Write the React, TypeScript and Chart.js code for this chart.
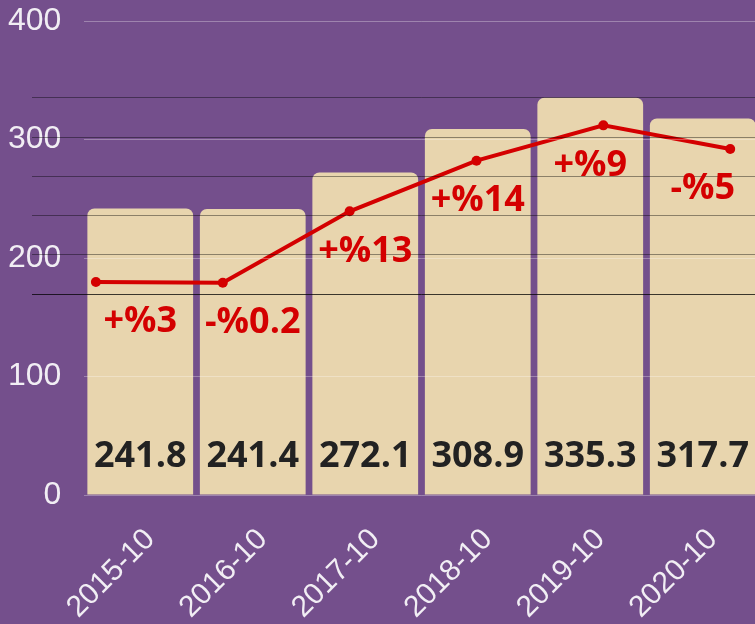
import React, { useEffect, useRef } from 'react';
import { Chart, registerables } from 'chart.js';

Chart.register(...registerables);

// ---- data ----
const categories = ['2015-10', '2016-10', '2017-10', '2018-10', '2019-10', '2020-10'];
const barValues = [241.8, 241.4, 272.1, 308.9, 335.3, 317.7];
const lineValues = [53.1, 52.9, 71.1, 84.0, 93.0, 87.0];
const changeLabels = ['+%3', '-%0.2', '+%13', '+%14', '+%9', '-%5'];
const yTickValues = [0, 100, 200, 300, 400];

const BG = '#744f8c';
const BAR = '#e8d5ae';
const RED = '#d40000';

const labelPlugin = {
  id: 'valueLabels',
  afterDraw(chart: any) {
    const ctx = chart.ctx;
    const barMeta = chart.getDatasetMeta(0);
    const lineMeta = chart.getDatasetMeta(1);
    const y = chart.scales.y;
    ctx.save();
    ctx.textAlign = 'center';
    ctx.textBaseline = 'middle';
    ctx.font = 'bold 36px "Open Sans"';
    barMeta.data.forEach((bar: any, i: number) => {
      ctx.fillStyle = '#222222';
      ctx.fillText(String(barValues[i]), bar.x, y.getPixelForValue(0) - 38);
      ctx.fillStyle = RED;
      const pt = lineMeta.data[i];
      ctx.fillText(changeLabels[i], bar.x, pt.y + 40);
    });
    ctx.restore();
  },
};

export default function App() {
  const ref = useRef<HTMLCanvasElement>(null);
  useEffect(() => {
    if (!ref.current) return;
    const chart = new Chart(ref.current, {
      type: 'bar',
      data: {
        labels: categories,
        datasets: [
          {
            type: 'bar',
            data: barValues,
            backgroundColor: BAR,
            borderWidth: 0,
            borderRadius: 7,
            borderSkipped: 'start',
            grouped: false,
            categoryPercentage: 1,
            barPercentage: 0.94,
            xAxisID: 'x',
            yAxisID: 'y',
            order: 2,
          } as any,
          {
            type: 'line',
            data: lineValues.map((v, i) => ({ x: i, y: v })),
            borderColor: RED,
            backgroundColor: RED,
            borderWidth: 4,
            pointRadius: 5,
            pointBackgroundColor: RED,
            pointBorderWidth: 0,
            tension: 0,
            xAxisID: 'x2',
            yAxisID: 'y1',
            order: 1,
          } as any,
        ],
      },
      options: {
        responsive: false,
        animation: false,
        devicePixelRatio: 1,
        layout: { padding: { top: 21 } },
        plugins: { legend: { display: false }, tooltip: { enabled: false } },
        scales: {
          x: {
            type: 'category',
            offset: true,
            grid: { display: false },
            border: { display: false },
            afterFit: (s: any) => {
              s.height = 129;
            },
            ticks: {
              color: 'rgba(255,255,255,0.9)',
              font: { size: 30 },
              minRotation: 45,
              maxRotation: 45,
              padding: 19,
              labelOffset: 10,
            },
          },
          x2: { type: 'linear', display: false, offset: false, min: -0.0939, max: 5.2269 },
          y: {
            position: 'left',
            weight: 1,
            min: 0,
            max: 400,
            afterBuildTicks: (s: any) => {
              s.ticks = yTickValues.map((v) => ({ value: v }));
            },
            afterFit: (s: any) => {
              s.width = 32;
            },
            grid: { color: 'rgba(255,255,255,0.3)', drawTicks: false, z: 1 },
            border: { display: false },
            ticks: {
              color: 'rgba(255,255,255,0.9)',
              font: { size: 32 },
              mirror: true,
              crossAlign: 'far',
              padding: -24,
            },
          },
          y1: {
            position: 'left',
            weight: 0,
            min: -1.2,
            max: 119.6,
            ticks: { display: false, stepSize: 10 },
            grid: {
              color: (c: any) => {
                const v = c.tick ? c.tick.value : null;
                if (v === 50) return 'rgba(0,0,0,0.75)';
                if (v !== null && v > 50 && v <= 100) return 'rgba(0,0,0,0.4)';
                return 'rgba(0,0,0,0)';
              },
              drawTicks: true,
              tickLength: 52,
              z: 1,
            },
            border: { display: false },
          },
        } as any,
      },
      plugins: [labelPlugin],
    });
    return () => chart.destroy();
  }, []);

  return (
    <div
      style={{
        position: 'absolute',
        left: 0,
        top: 0,
        width: 755,
        height: 624,
        overflow: 'hidden',
        background: BG,
      }}
    >
      <canvas ref={ref} width={764} height={624} style={{ display: 'block' }} />
    </div>
  );
}
